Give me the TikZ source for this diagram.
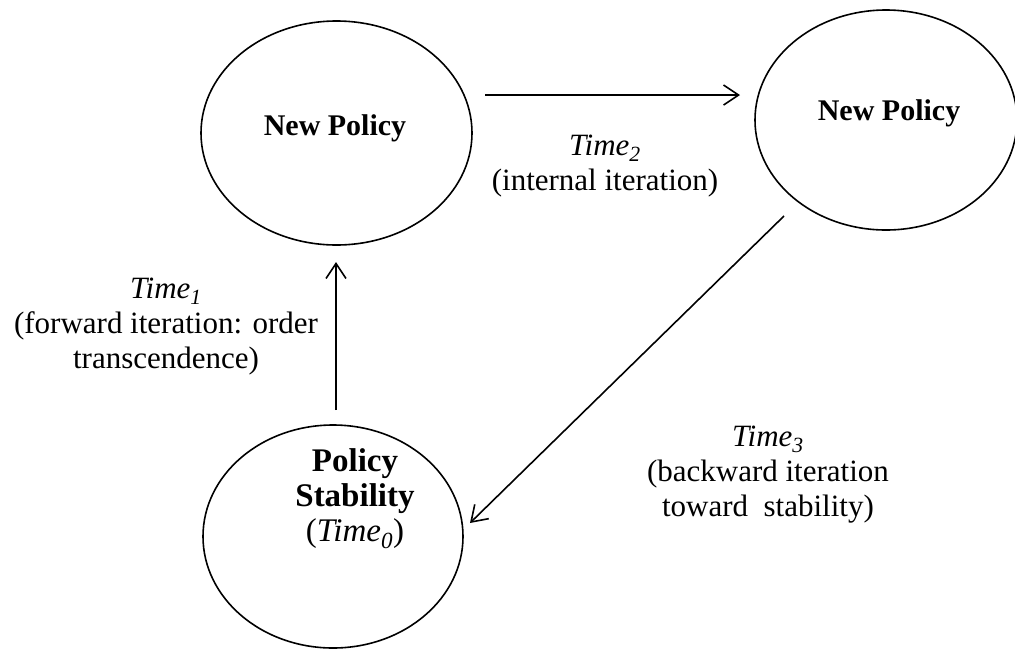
\documentclass[tikz,border=0pt]{standalone}
\usepackage{fontspec}
\setmainfont{Liberation Serif}
\usetikzlibrary{shapes.geometric,arrows.meta}
\begin{document}
\begin{tikzpicture}[x=1pt,y=-1pt,
  circ/.style={draw,ellipse,line width=1.6pt,inner sep=0pt},
  lbl/.style={font=\fontsize{31}{35}\selectfont,align=center,inner sep=0pt},
  bold/.style={font=\fontsize{30}{33}\selectfont\bfseries,align=center,inner sep=0pt},
  boldb/.style={font=\fontsize{33}{35}\selectfont\bfseries,align=center,inner sep=0pt},
  arr/.style={line width=1.6pt,-{Straight Barb[length=15pt,width=20pt,line width=1.6pt]}}]
\useasboundingbox (0,0) rectangle (1015,649);
% ellipses
\node[circ,minimum width=271pt,minimum height=224pt] (e1) at (336.5,133) {};
\node[circ,minimum width=262pt,minimum height=220pt] (e2) at (886,120) {};
\node[circ,minimum width=260pt,minimum height=223pt] (e3) at (333,536.5) {};
% texts inside
\node[bold,anchor=base] (t1) at (335,135) {New Policy};
\node[bold,anchor=base] (t2) at (889,120) {New Policy};
\node[boldb] (t3) at (355,499) {Policy\\Stability\\{\normalfont(\textit{Time}\textsubscript{\textit{0}})}};
% labels
\node[lbl] (l1) at (166,327) {\textit{Time}\textsubscript{\textit{1}}\\(forward iteration: order\\transcendence)};
\node[lbl] (l2) at (605,166) {\textit{Time}\textsubscript{\textit{2}}\\(internal iteration)};
\node[lbl] (l3) at (768,475) {\textit{Time}\textsubscript{\textit{3}}\\(backward iteration\\toward\ \ stability)};
% connectors
\coordinate (a1s) at (336,410); \coordinate (a1e) at (336,262);
\coordinate (a2s) at (485,95);  \coordinate (a2e) at (740,95);
\coordinate (a3s) at (784,216); \coordinate (a3e) at (470,523);
\draw[arr] (a1s) -- (a1e);
\draw[arr] (a2s) -- (a2e);
\draw[arr] (a3s) -- (a3e);
\end{tikzpicture}
\end{document}
